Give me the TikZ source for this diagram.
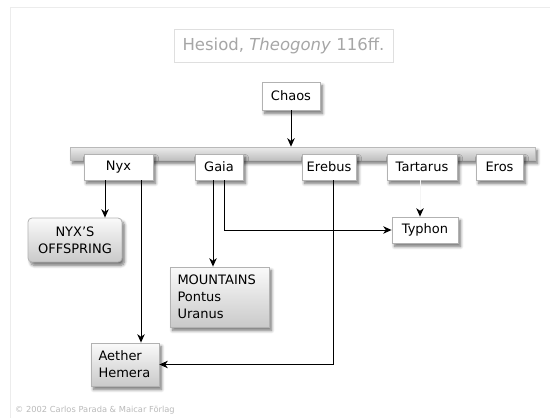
\documentclass[tikz,border=0pt]{standalone}
\usepackage{fontspec}
\setmainfont{DejaVu Sans}
\usetikzlibrary{shadows,shadows.blur,arrows.meta}
\begin{document}
\begin{tikzpicture}[x=1pt,y=-1pt,
  lbl/.style={font=\fontsize{13}{17}\selectfont},
  shad/.style={blur shadow={shadow xshift=2.5pt, shadow yshift=-3.5pt, shadow blur steps=7, shadow blur radius=3pt, shadow opacity=55}},
  wbox/.style={lbl, draw=gray!60, line width=0.8pt, fill=white, shad, inner sep=0pt, minimum height=26pt},
  gbox/.style={lbl, draw=gray!60, line width=0.8pt, top color=gray!4, bottom color=gray!42, shad, inner sep=0pt},
  arr/.style={draw=black, line width=0.9pt, -{Stealth[length=8.5pt,width=7.5pt]}},
  ln/.style={draw=black, line width=0.9pt}
]
\useasboundingbox (0,0) rectangle (550,418);
% faint frame
\draw[gray!15, line width=0.8pt] (10,418) -- (10,7) -- (550,7);

% title
\node[draw=gray!25, line width=0.8pt, minimum width=219pt, minimum height=33pt, inner sep=0pt,
      text=gray!70, font=\fontsize{16.5}{18}\selectfont] (title) at (283.5,45.5) {Hesiod, \textit{Theogony} 116ff.};

% Chaos
\node[wbox, minimum width=58pt, minimum height=28pt] (chaos) at (291,96) {Chaos};

% bar
\node[draw=gray!55, line width=0.7pt, top color=gray!15, bottom color=gray!50, shad,
      minimum width=465pt, minimum height=13pt, inner sep=0pt] (bar) at (302.5,153.5) {};

% first generation
\node[wbox, minimum width=69pt] (nyx) at (118.5,167) {Nyx};
\node[wbox, minimum width=48pt] (gaia) at (219,167) {Gaia};
\node[wbox, minimum width=54pt] (erebus) at (329,167) {Erebus};
\node[wbox, minimum width=70pt] (tartarus) at (422,167) {Tartarus};
\node[wbox, minimum width=47pt] (eros) at (499.5,167) {Eros};

% offspring
\node[gbox, rounded corners=4pt, minimum width=94pt, minimum height=44pt, align=center] (offspring) at (75,240) {NYX{\char"27}S\\OFFSPRING};
\node[gbox, minimum width=99pt, minimum height=60pt, text width=84pt, inner xsep=7.5pt, align=left] (mountains) at (219.5,297) {MOUNTAINS\\Pontus\\Uranus};
\node[wbox, minimum width=66pt] (typhon) at (425,230) {Typhon};
\node[gbox, minimum width=68pt, minimum height=43pt, text width=53pt, inner xsep=7.5pt, align=left] (aether) at (125,364.5) {Aether\\Hemera};

% copyright
\node[anchor=west, inner sep=0pt, text=gray!55, font=\fontsize{8.3}{10}\selectfont] (copy) at (15,410) {© 2002 Carlos Parada \& Maicar Förlag};

% connectors
\draw[arr] (chaos.south) -- (chaos.south |- bar.north);
\draw[arr] ([xshift=-13.5pt]nyx.south) -- ([xshift=-13.5pt]nyx.south |- offspring.north);
\draw[arr] ([xshift=22.5pt]nyx.south) -- ([xshift=22.5pt]nyx.south |- aether.north);
\draw[arr] ([xshift=-6pt]gaia.south) -- ([xshift=-6pt]gaia.south |- mountains.north);
\draw[arr] ([xshift=5pt]gaia.south) |- (typhon.west);
\draw[draw=gray!8, line width=0.8pt, -{Stealth[length=8.5pt,width=7.5pt,black]}] ([xshift=-2pt]tartarus.south) -- ([xshift=-2pt]tartarus.south |- typhon.north);
\draw[arr] ([xshift=4pt]erebus.south) |- (aether.east);
\end{tikzpicture}
\end{document}
